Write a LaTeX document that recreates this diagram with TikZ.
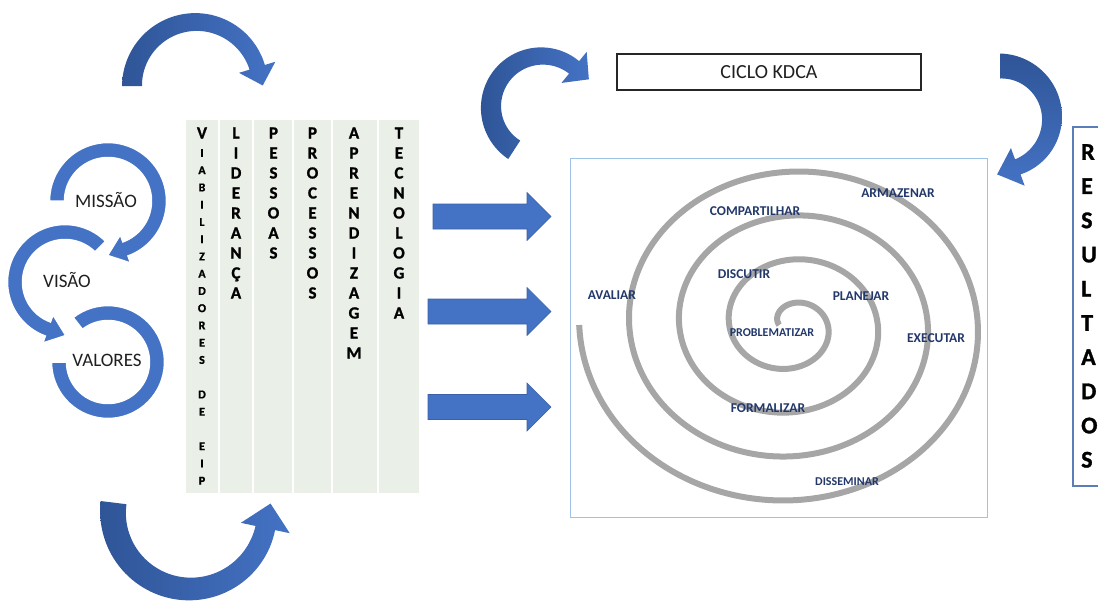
\documentclass[tikz,border=0pt]{standalone}
\usepackage{fontspec}
\setmainfont{Carlito}
\newfontfamily\heavyfont{Carlito}[BoldFeatures={FakeBold=1.2}]
\usetikzlibrary{calc}

\definecolor{ringblue}{HTML}{4472C4}
\definecolor{deepblue}{HTML}{2F5597}
\definecolor{colbg}{HTML}{EAEFE7}
\definecolor{boxblue}{HTML}{9DC3E6}
\definecolor{spiralgray}{HTML}{A6A6A6}
\definecolor{labelblue}{HTML}{22386B}
\definecolor{resborder}{HTML}{5B7DB8}

% Curved block arrow along a circular arc.
% #1,#2 centre; #3 radius; #4 start angle; #5 end angle;
% #6 half width at tail; #7 half width at head end; #8 head half width; #9 head length
\newcommand{\bentarrow}[9]{%
  \pgfmathsetmacro{\bsgn}{sign((#5)-(#4))}%
  \path[bentfill]
    plot[domain=#4:#5, samples=60, variable=\t]
      ({(#1)+((#3)+(#6)+((#7)-(#6))*(\t-(#4))/((#5)-(#4)))*cos(\t)},
       {(#2)+((#3)+(#6)+((#7)-(#6))*(\t-(#4))/((#5)-(#4)))*sin(\t)})
    -- ({(#1)+((#3)+(#8))*cos(#5)}, {(#2)+((#3)+(#8))*sin(#5)})
    -- ({(#1)+(#3)*cos(#5)-(\bsgn)*(#9)*sin(#5)}, {(#2)+(#3)*sin(#5)+(\bsgn)*(#9)*cos(#5)})
    -- ({(#1)+((#3)-(#8))*cos(#5)}, {(#2)+((#3)-(#8))*sin(#5)})
    -- plot[domain=#5:#4, samples=60, variable=\t]
      ({(#1)+((#3)-(#6)-((#7)-(#6))*(\t-(#4))/((#5)-(#4)))*cos(\t)},
       {(#2)+((#3)-(#6)-((#7)-(#6))*(\t-(#4))/((#5)-(#4)))*sin(\t)})
    -- cycle;}

\tikzset{
  ringfill/.style={fill=ringblue, draw=white, line width=1.5pt},
  ringtext/.style={font=\fontsize{19}{23}\selectfont, text=black!88, inner sep=0pt},
  colletter/.style={font=\heavyfont\fontsize{17}{20}\selectfont\bfseries, inner sep=0pt,
    text height=11pt, text depth=0pt},
  colsmall/.style={font=\heavyfont\fontsize{12}{14}\selectfont\bfseries, inner sep=0pt,
    text height=7.7pt, text depth=0pt},
  blockarrow/.style={fill=ringblue, draw=ringblue!85!black, line width=0.6pt},
  kdcabox/.style={draw=black!85, line width=1.3pt, minimum width=304pt,
    minimum height=36pt, inner sep=0pt, font=\fontsize{20}{24}\selectfont, text=black!88},
  spiralline/.style={draw=spiralgray, line width=6pt},
  spirallabel/.style={font=\fontsize{13.5}{16}\selectfont\bfseries, text=labelblue, inner sep=0pt},
  restext/.style={font=\heavyfont\fontsize{24}{28}\selectfont\bfseries, text=black, inner sep=0pt,
    text height=15.5pt, text depth=0pt, anchor=west}
}

\begin{document}
\begin{tikzpicture}[x=1pt, y=-1pt]
\path[use as bounding box] (0,0) rectangle (1098,603);
\clip (0,0) rectangle (1098,603);

% ---- circular arrows: missão, visão, valores ----
\begin{scope}[bentfill/.style={ringfill}]
  \bentarrow{108}{362}{49}{232}{540}{7.5}{7.5}{7.5}{0}
  \bentarrow{65}{282}{50}{315}{110}{7.5}{7.5}{15}{19}
  \bentarrow{108}{201}{51}{180}{430}{7.5}{7.5}{15}{19}
\end{scope}
\node[ringtext] (missao) at (106,200) {MISSÃO};
\node[ringtext] (visao) at (67,280) {VISÃO};
\node[ringtext] (valores) at (107,360) {VALORES};

% ---- curved arrows above and below the columns ----
\begin{scope}[bentfill/.style={left color=deepblue, right color=ringblue}]
  \bentarrow{196}{86}{64}{180}{343}{10}{8}{19}{19}
  \bentarrow{190}{512}{77}{187}{12}{13}{10}{25}{25}
  \bentarrow{542}{107}{51}{123}{309}{11}{8}{20}{19}
\end{scope}
\begin{scope}[bentfill/.style={top color=deepblue, bottom color=ringblue}]
  \bentarrow{1000}{118}{52}{270}{430}{12.5}{8}{20}{22}
\end{scope}

% ---- columns of enablers ----
\foreach \xa/\xb in {185/219, 219/253, 253/293, 293/332, 332/378, 378/420}
  \fill[colbg] ({\xa+1},120) rectangle ({\xb-1},493);

\node[colletter] (vz) at (202,133) {V};
\foreach \ch/\k in {I/0,A/1,B/2,I/3,L/4,I/5,Z/6,A/7,D/8,O/9,R/10,E/11,S/12,D/14,E/15,E/17,I/18,P/19}
  \node[colsmall] (vv\k) at (202,{153+17.25*\k}) {\ch};
\foreach \ch [count=\i from 0] in {L,I,D,E,R,A,N,Ç,A}
  \node[colletter] (lid\i) at (236,{133+20*\i}) {\ch};
\foreach \ch [count=\i from 0] in {P,E,S,S,O,A,S}
  \node[colletter] (pes\i) at (273.5,{133+20*\i}) {\ch};
\foreach \ch [count=\i from 0] in {P,R,O,C,E,S,S,O,S}
  \node[colletter] (pro\i) at (312.5,{133+20*\i}) {\ch};
\foreach \ch [count=\i from 0] in {A,P,R,E,N,D,I,Z,A,G,E,M}
  \node[colletter] (apr\i) at (354,{133+20*\i}) {\ch};
\foreach \ch [count=\i from 0] in {T,E,C,N,O,L,O,G,I,A}
  \node[colletter] (tec\i) at (399,{133+20*\i}) {\ch};

% ---- straight block arrows ----
\foreach \yy/\xs in {216.5/433, 311.5/428, 407/428}
  \path[blockarrow] (\xs,{\yy-12.5}) -- (527,{\yy-12.5}) -- (527,{\yy-24}) -- (551,\yy)
    -- (527,{\yy+24}) -- (527,{\yy+12.5}) -- (\xs,{\yy+12.5}) -- cycle;

% ---- KDCA cycle ----
\node[kdcabox] (kdca) at (769,72) {CICLO KDCA};

\node[draw=boxblue, line width=1pt, minimum width=417pt, minimum height=359pt, inner sep=0pt]
  (spiralbox) at (778.5,337.5) {};
\draw[spiralline] plot[domain=180:1620, samples=500, smooth, variable=\t]
  ({791+0.1389*(\t-95)*cos(\t)}, {325+0.1222*(\t-95)*sin(\t)});

\node[spirallabel] (armazenar) at (898,193) {ARMAZENAR};
\node[spirallabel] (compartilhar) at (755,211) {COMPARTILHAR};
\node[spirallabel] (discutir) at (744,274) {DISCUTIR};
\node[spirallabel] (avaliar) at (612,295) {AVALIAR};
\node[spirallabel] (planejar) at (861,296) {PLANEJAR};
\node[spirallabel, font=\fontsize{12}{14}\selectfont\bfseries] (problematizar) at (772,333) {PROBLEMATIZAR};
\node[spirallabel] (executar) at (936,338) {EXECUTAR};
\node[spirallabel] (formalizar) at (768,408) {FORMALIZAR};
\node[spirallabel, font=\fontsize{12}{14}\selectfont\bfseries] (disseminar) at (847,482) {DISSEMINAR};

% ---- results ----
\draw[resborder, line width=1.3pt] (1073,127) rectangle (1120,486);
\foreach \ch [count=\i from 0] in {R,E,S,U,L,T,A,D,O,S}
  \node[restext] (res\i) at (1081,{152+34.2*\i}) {\ch};
\end{tikzpicture}
\end{document}
